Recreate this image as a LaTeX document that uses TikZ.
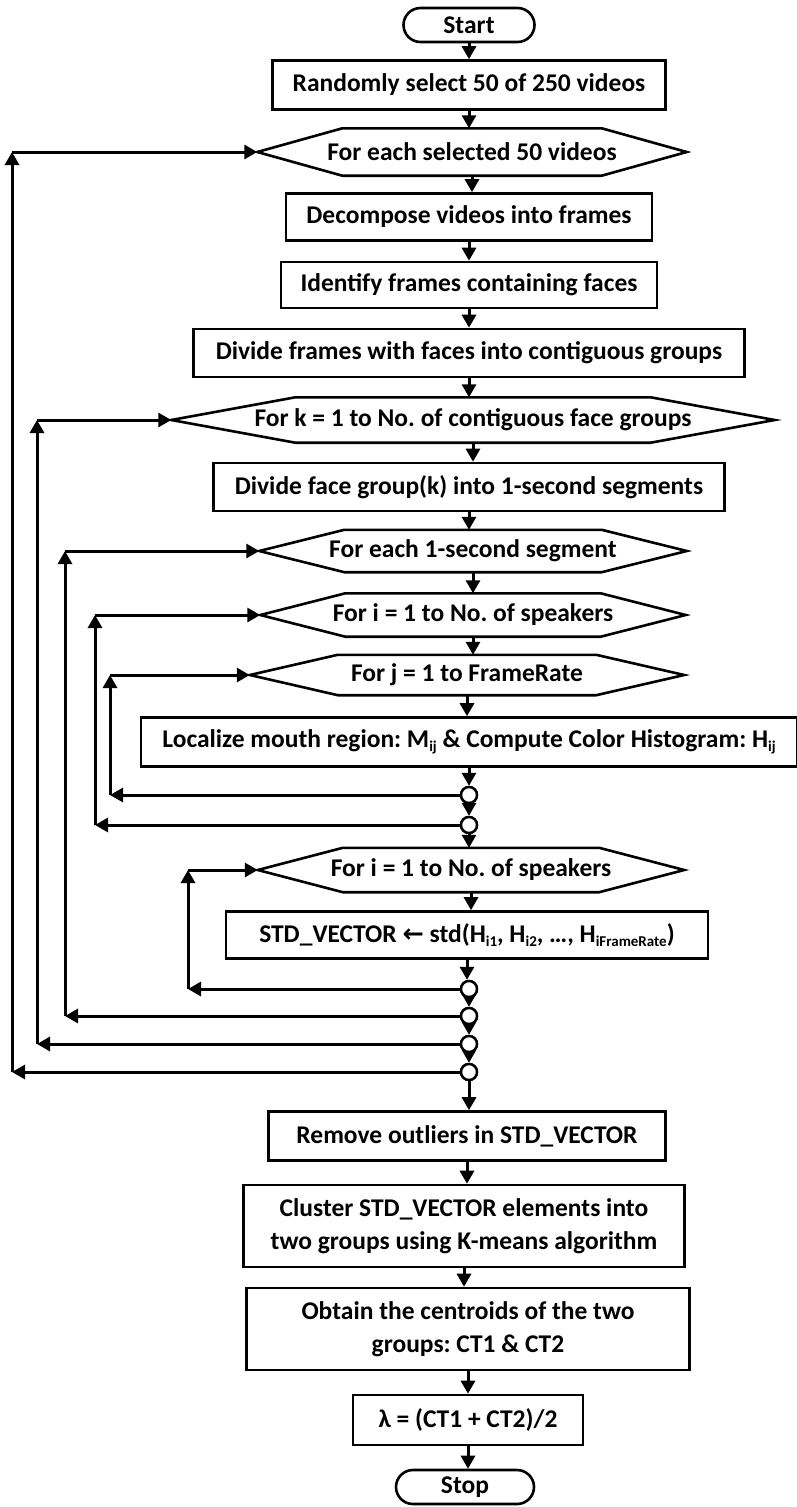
\documentclass[tikz,border=0pt]{standalone}
\usepackage{fontspec}
\setmainfont{Carlito}
\newfontfamily\arrowfont{DejaVu Sans}
\usetikzlibrary{arrows.meta}
\newcommand{\lowidx}[1]{\raisebox{-0.35ex}{\fontsize{15}{15}\selectfont #1}}
\newcommand{\hexframe}[2]{\draw[line width=2.6pt] (#1.west) -- ([xshift=#2]#1.north west) -- ([xshift=-#2]#1.north east) -- (#1.east) -- ([xshift=-#2]#1.south east) -- ([xshift=#2]#1.south west) -- cycle;}
\tikzset{
  box/.style={draw, line width=2.6pt, minimum height=47pt, inner sep=0pt},
  hexa/.style={minimum height=44pt, inner sep=0pt},
  term/.style={draw, line width=2.6pt, rounded corners=17pt, minimum height=34pt, inner sep=0pt},
  junc/.style={circle, draw, fill=white, line width=2.4pt, minimum size=16pt, inner sep=0pt},
  flow/.style={line width=3pt, -{Triangle[length=13pt,width=14pt]}}
}
\begin{document}
\begin{tikzpicture}[x=1pt, y=-1pt, font=\fontsize{25.5}{33}\selectfont\bfseries\frenchspacing]
\useasboundingbox (0,0) rectangle (797,1507);
\node[term, minimum width=131pt] (start) at (469,25) {Start};
\node[box, minimum width=393pt, minimum height=49pt] (rand) at (469,85) {Randomly select 50 of 250 videos};
\node[hexa, minimum width=429pt, minimum height=47pt] (vid) at (472,152) {For each selected 50 videos};
\hexframe{vid}{85}
\node[box, minimum width=366pt] (decomp) at (469,217) {Decompose videos into frames};
\node[box, minimum width=376pt, minimum height=46pt] (ident) at (469,285) {Identify frames containing faces};
\node[box, minimum width=551pt, minimum height=48pt] (divf) at (469,353) {Divide frames with faces into contiguous groups};
\node[hexa, minimum width=603pt, minimum height=45pt] (kloop) at (473,420) {For k = 1 to No. of contiguous face groups};
\hexframe{kloop}{124}
\node[box, minimum width=511pt, minimum height=48pt] (divg) at (469,487) {Divide face group(k) into 1-second segments};
\node[hexa, minimum width=427pt, minimum height=42pt] (seg) at (473,551) {For each 1-second segment};
\hexframe{seg}{85}
\node[hexa, minimum width=425pt, minimum height=43pt] (iloop) at (473,615) {For i = 1 to No. of speakers};
\hexframe{iloop}{85}
\node[hexa, minimum width=434pt, minimum height=40pt] (jloop) at (467,675) {For j = 1 to FrameRate};
\hexframe{jloop}{88}
\node[box, minimum width=656pt, minimum height=49pt] (mouth) at (469,742) {Localize mouth region: M\lowidx{ij} \& Compute Color Histogram: H\lowidx{ij}};
\node[junc] (jA) at (469,795) {};
\node[junc] (jB) at (469,825) {};
\node[hexa, minimum width=426pt, minimum height=44pt] (iloopb) at (471,870) {For i = 1 to No. of speakers};
\hexframe{iloopb}{85}
\node[box, minimum width=482pt] (stdv) at (467,935) {STD\_VECTOR {\arrowfont ←} std(H\lowidx{i1}, H\lowidx{i2}, \dots, H\lowidx{iFrameRate})};
\node[junc] (jC) at (469,989) {};
\node[junc] (jD) at (469,1016) {};
\node[junc] (jE) at (469,1044) {};
\node[junc] (jF) at (469,1072) {};
\node[box, minimum width=397pt, minimum height=49pt] (outl) at (467,1136) {Remove outliers in STD\_VECTOR};
\node[box, align=center, minimum width=441pt, minimum height=82pt] (clus) at (464,1226) {Cluster STD\_VECTOR elements into\\two groups using K-means algorithm};
\node[box, align=center, minimum width=443pt, minimum height=82pt] (cent) at (468,1329) {Obtain the centroids of the two\\groups: CT1 \& CT2};
\node[box, minimum width=230pt, minimum height=50pt] (lam) at (468,1420) {λ = (CT1 + CT2)/2};
\node[term, minimum width=138pt] (stop) at (465,1487) {Stop};
\coordinate (colV) at (12,0);
\coordinate (colK) at (37,0);
\coordinate (colS) at (65,0);
\coordinate (colI) at (95,0);
\coordinate (colJ) at (110,0);
\coordinate (colIb) at (188,0);
\foreach \a/\b in {start/rand, rand/vid, vid/decomp, decomp/ident, ident/divf, divf/kloop, kloop/divg, divg/seg, seg/iloop, iloop/jloop, jloop/mouth, mouth/jA, jA/jB, jB/iloopb, iloopb/stdv, stdv/jC, jC/jD, jD/jE, jE/jF, jF/outl, outl/clus, clus/cent, cent/lam, lam/stop}
  \draw[flow] (\a.south) -- (\a.south |- \b.north);
\foreach \j/\h/\c in {jA/jloop/colJ, jB/iloop/colI, jC/iloopb/colIb, jD/seg/colS, jE/kloop/colK, jF/vid/colV} {
  \draw[flow] (\j.west) -- (\j.west -| \c);
  \draw[flow] (\j.west -| \c) -- (\h.west -| \c);
  \draw[flow] (\h.west -| \c) -- (\h.west);
}
\foreach \j in {jA, jB, jC, jD, jE, jF}
  \node[junc] at (\j) {};
\end{tikzpicture}
\end{document}
